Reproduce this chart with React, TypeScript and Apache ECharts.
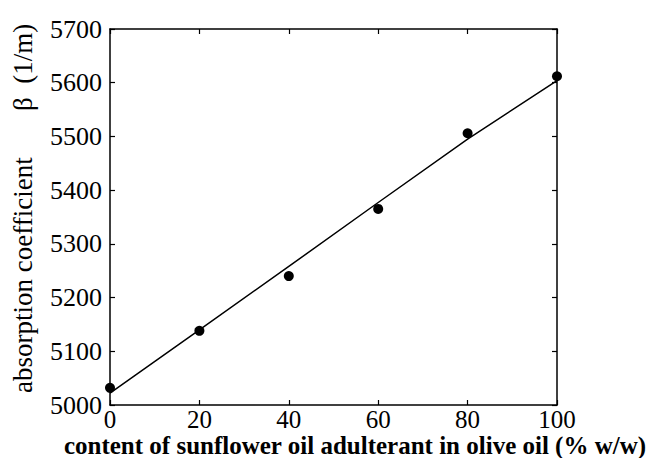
import React, { useEffect, useRef } from "react";
import * as echarts from "echarts";

// Sunflower-oil content (% w/w) and measured absorption coefficient β (1/m)
const contentPct = [0, 20, 40, 60, 80, 100];
const betaMeasured = [5032, 5138, 5240, 5365, 5506, 5612];

// Calibration line through the measurements
const fitContent = [0, 20, 40, 60, 80, 100];
const fitBeta = [5022, 5140, 5258, 5377, 5495, 5604];

const xTitle = "content of sunflower oil adulterant in olive oil (% w/w)";
const yTitleMain = "absorption coefficient";
const yTitleUnit = "β  (1/m)";

const SERIF = '"Liberation Serif", "Times New Roman", serif';

export default function App() {
  const ref = useRef<HTMLDivElement>(null);

  useEffect(() => {
    if (!ref.current) return;
    const chart = echarts.init(ref.current, null, { renderer: "svg" });

    const axisLine = { show: true, onZero: false, lineStyle: { color: "#000", width: 1.5 } };
    const axisTick = { show: true, inside: true, length: 5, lineStyle: { color: "#000", width: 1.2 } };
    const plain = (v: number) => String(v);

    chart.setOption({
      animation: false,
      backgroundColor: "#fff",
      grid: { left: 110, right: 99, top: 29, bottom: 53, containLabel: false },
      xAxis: [
        {
          type: "value",
          min: 0,
          max: 100,
          interval: 20,
          position: "bottom",
          axisLine,
          axisTick,
          splitLine: { show: false },
          axisLabel: {
            color: "#000",
            fontFamily: SERIF,
            fontSize: 25,
            lineHeight: 20,
            margin: 4,
            formatter: plain,
          },
        },
        {
          type: "value",
          min: 0,
          max: 100,
          interval: 20,
          position: "top",
          axisLine,
          axisTick,
          splitLine: { show: false },
          axisLabel: { show: false },
        },
      ],
      yAxis: [
        {
          type: "value",
          min: 5000,
          max: 5700,
          interval: 100,
          position: "left",
          axisLine,
          axisTick,
          splitLine: { show: false },
          axisLabel: {
            color: "#000",
            fontFamily: SERIF,
            fontSize: 26,
            lineHeight: 20,
            margin: 8,
            padding: [0, 0, 5, 0],
            formatter: plain,
          },
        },
        {
          type: "value",
          min: 5000,
          max: 5700,
          interval: 100,
          position: "right",
          axisLine,
          axisTick,
          splitLine: { show: false },
          axisLabel: { show: false },
        },
      ],
      series: [
        {
          type: "line",
          xAxisIndex: 0,
          yAxisIndex: 0,
          data: fitContent.map((x, i) => [x, fitBeta[i]]),
          showSymbol: false,
          symbol: "none",
          lineStyle: { color: "#000", width: 1.5 },
          z: 2,
        },
        {
          type: "scatter",
          xAxisIndex: 0,
          yAxisIndex: 0,
          data: contentPct.map((x, i) => [x, betaMeasured[i]]),
          symbol: "circle",
          symbolSize: 10,
          itemStyle: { color: "#000", opacity: 1 },
          z: 3,
        },
      ],
      graphic: [
        {
          type: "text",
          x: 355,
          y: 445,
          style: {
            text: xTitle,
            fill: "#000",
            fontFamily: SERIF,
            fontSize: 25,
            fontWeight: "bold",
            lineHeight: 20,
            align: "center",
            verticalAlign: "middle",
          },
        },
        {
          type: "text",
          x: 23,
          y: 393,
          rotation: Math.PI / 2,
          style: {
            text: yTitleMain,
            fill: "#000",
            fontFamily: SERIF,
            fontSize: 27,
            lineHeight: 22,
            align: "left",
            verticalAlign: "middle",
          },
        },
        {
          type: "text",
          x: 23,
          y: 111,
          rotation: Math.PI / 2,
          style: {
            text: yTitleUnit,
            fill: "#000",
            fontFamily: SERIF,
            fontSize: 27,
            lineHeight: 22,
            align: "left",
            verticalAlign: "middle",
          },
        },
      ],
    });

    return () => chart.dispose();
  }, []);

  return (
    <div
      ref={ref}
      style={{ position: "absolute", left: 0, top: 0, width: 656, height: 458, background: "#fff" }}
    />
  );
}
